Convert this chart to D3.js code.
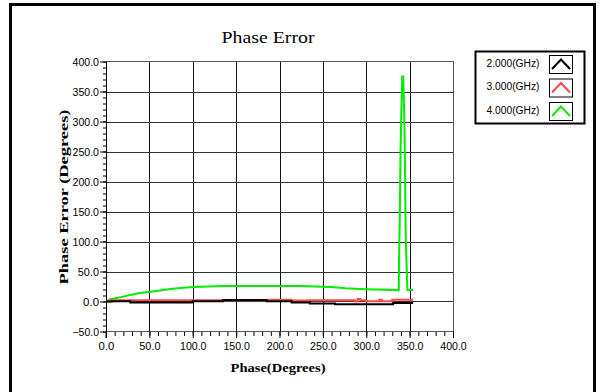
<!DOCTYPE html>
<html>
<head>
<meta charset="utf-8">
<script src="https://cdn.jsdelivr.net/npm/d3@7"></script>
<style>
  body { margin: 0; background: #fff; }
  svg { display: block; }
</style>
</head>
<body>
<svg id="chart" width="600" height="392"></svg>
<script>
// data
let phase2 = [0, 7, 28, 100, 135, 185, 214, 235, 264, 331, 354];
let err2 = [0, 0.5, -1.5, 0.5, 2.5, 0.5, -1.5, -3.5, -4.5, -2.5, -2.5];

let phase3 = [0, 5, 186, 214, 235, 285, 287, 290, 293, 299, 315, 318, 330, 354];
let err3 = [0, 2, 3, 1.5, 2, 2, 0, 4, 2, 0.5, 3, 0.5, 3, 3];

let phase4 = [0, 5, 17, 28, 39, 58, 74, 89, 100, 135, 224, 259, 276, 299, 337.5, 337.8, 338.6, 339.6, 340.5, 341.6, 342.6, 344, 345.5, 346.5, 347.5, 354];
let err4 = [0, 4, 7, 11, 14, 17.5, 21, 23, 24, 26, 26, 24, 22, 20.5, 19, 70, 135, 255, 320, 375, 375, 300, 110, 60, 19, 19];

let seriesNames = ['2.000(GHz)', '3.000(GHz)', '4.000(GHz)'];
let seriesColors = ['#000000', '#ff4848', '#00ee00'];
let xTicks = [0, 50, 100, 150, 200, 250, 300, 350, 400];
let yTicks = [-50, 0, 50, 100, 150, 200, 250, 300, 350, 400];

let svg = d3.select('#chart');
let fmt = d3.format('.1f');
let sans = '"Liberation Sans", sans-serif', serif = '"Liberation Serif", "DejaVu Serif", serif';

// outer window frame
svg.append('rect')
    .attr('x', 10.5).attr('y', 4.5).attr('width', 584).attr('height', 400)
    .attr('fill', 'none').attr('stroke', '#000').attr('stroke-width', 3);

let x = d3.scaleLinear().domain([0, 400]).range([106, 453]);
let y = d3.scaleLinear().domain([-50, 400]).range([331.5, 61.5]);

// grid
let grid = svg.append('g');
grid.selectAll('.vg').data(xTicks.slice(1, -1)).enter()
    .append('line')
    .attr('x1', d => Math.round(x(d)) + 0.5).attr('x2', d => Math.round(x(d)) + 0.5)
    .attr('y1', y(400)).attr('y2', y(-50))
    .attr('stroke', '#111').attr('stroke-width', 1);
grid.selectAll('.hg').data(yTicks.slice(1, -1)).enter()
    .append('line')
    .attr('x1', x(0)).attr('x2', x(400))
    .attr('y1', d => Math.round(y(d)) + 0.5).attr('y2', d => Math.round(y(d)) + 0.5)
    .attr('stroke', '#333').attr('stroke-width', 1);

// plot border
svg.append('rect')
    .attr('x', 106.5).attr('y', 61.5).attr('width', x(400) - x(0)).attr('height', y(-50) - y(400))
    .attr('fill', 'none').attr('stroke', '#555').attr('stroke-width', 1);

// minor ticks
let xMinor = d3.axisBottom(x).tickValues(d3.range(0, 401, 10)).tickSize(4).tickFormat('');
let yMinor = d3.axisLeft(y).tickValues(d3.range(-50, 401, 10)).tickSize(3).tickFormat('');
svg.append('g').attr('transform', 'translate(0,332)').call(xMinor)
    .call(g => g.select('.domain').remove());
svg.append('g').attr('transform', 'translate(106,0)').call(yMinor)
    .call(g => g.select('.domain').remove());

// major ticks + labels
let xAxis = d3.axisBottom(x).tickValues(xTicks).tickSize(7).tickPadding(5).tickFormat(fmt);
let yAxis = d3.axisLeft(y).tickValues(yTicks).tickSize(6).tickPadding(1).tickFormat(fmt);
let gx = svg.append('g').attr('transform', 'translate(0,331)').call(xAxis);
gx.select('.domain').attr('stroke', '#000').attr('d', 'M106,0.5V7');
let gy = svg.append('g').attr('transform', 'translate(106,0)').call(yAxis);
gy.select('.domain').attr('stroke', '#000').attr('d', 'M0.5,' + y(400) + 'V' + (y(-50) + 6));
svg.selectAll('.tick line').attr('stroke', '#000');
svg.selectAll('.tick text')
    .attr('font-size', 10.5).attr('fill', '#000')
    .attr('font-family', sans)
    .attr('textLength', function () { return this.textContent.length * 5.3; })
    .attr('lengthAdjust', 'spacingAndGlyphs');
gy.selectAll('.tick text').attr('dy', '0.35em');

// series lines
let line = d3.line().x(d => x(d[0])).y(d => y(d[1]));
let series = [
    d3.zip(phase2, err2),
    d3.zip(phase3, err3),
    d3.zip(phase4, err4)
];
// draw green first, then red, black on top
[2, 1, 0].forEach(i => {
    svg.append('path')
        .datum(series[i])
        .attr('d', line.curve(i === 2 ? d3.curveLinear : d3.curveStepAfter))
        .attr('fill', 'none')
        .attr('stroke', seriesColors[i])
        .attr('stroke-width', 2);
});

// title and axis labels
svg.append('text')
    .attr('x', 268).attr('y', 43)
    .attr('text-anchor', 'middle')
    .attr('font-family', serif)
    .attr('font-size', 17)
    .attr('textLength', 93).attr('lengthAdjust', 'spacingAndGlyphs')
    .text('Phase Error');

svg.append('text')
    .attr('transform', 'translate(68,197) rotate(-90)')
    .attr('text-anchor', 'middle')
    .attr('font-family', serif)
    .attr('font-weight', 'bold')
    .attr('font-size', 12)
    .attr('textLength', 175).attr('lengthAdjust', 'spacingAndGlyphs')
    .text('Phase Error (Degrees)');

svg.append('text')
    .attr('x', 278).attr('y', 372)
    .attr('text-anchor', 'middle')
    .attr('font-family', serif)
    .attr('font-weight', 'bold')
    .attr('font-size', 12)
    .attr('textLength', 95).attr('lengthAdjust', 'spacingAndGlyphs')
    .text('Phase(Degrees)');

// legend
let legend = svg.append('g');
legend.append('rect')
    .attr('x', 475.5).attr('y', 51.5).attr('width', 109).attr('height', 72)
    .attr('fill', '#fff').attr('stroke', '#000').attr('stroke-width', 2);
let items = legend.selectAll('.item').data(seriesNames).enter()
    .append('g')
    .attr('transform', (d, i) => `translate(0,${i * 23.5})`);
items.append('text')
    .attr('x', 513).attr('y', 63).attr('dy', '0.35em')
    .attr('text-anchor', 'middle')
    .attr('font-family', sans)
    .attr('font-size', 10)
    .attr('textLength', 53).attr('lengthAdjust', 'spacingAndGlyphs')
    .text(d => d);
items.append('rect')
    .attr('x', 549.5).attr('y', 55.5).attr('width', 23).attr('height', 18)
    .attr('fill', '#fff').attr('stroke', '#000').attr('stroke-width', 1);
items.append('path')
    .attr('d', 'M552,69L561,59.5L570,69')
    .attr('fill', 'none')
    .attr('stroke', (d, i) => seriesColors[i])
    .attr('stroke-width', 2);
</script>
</body>
</html>
